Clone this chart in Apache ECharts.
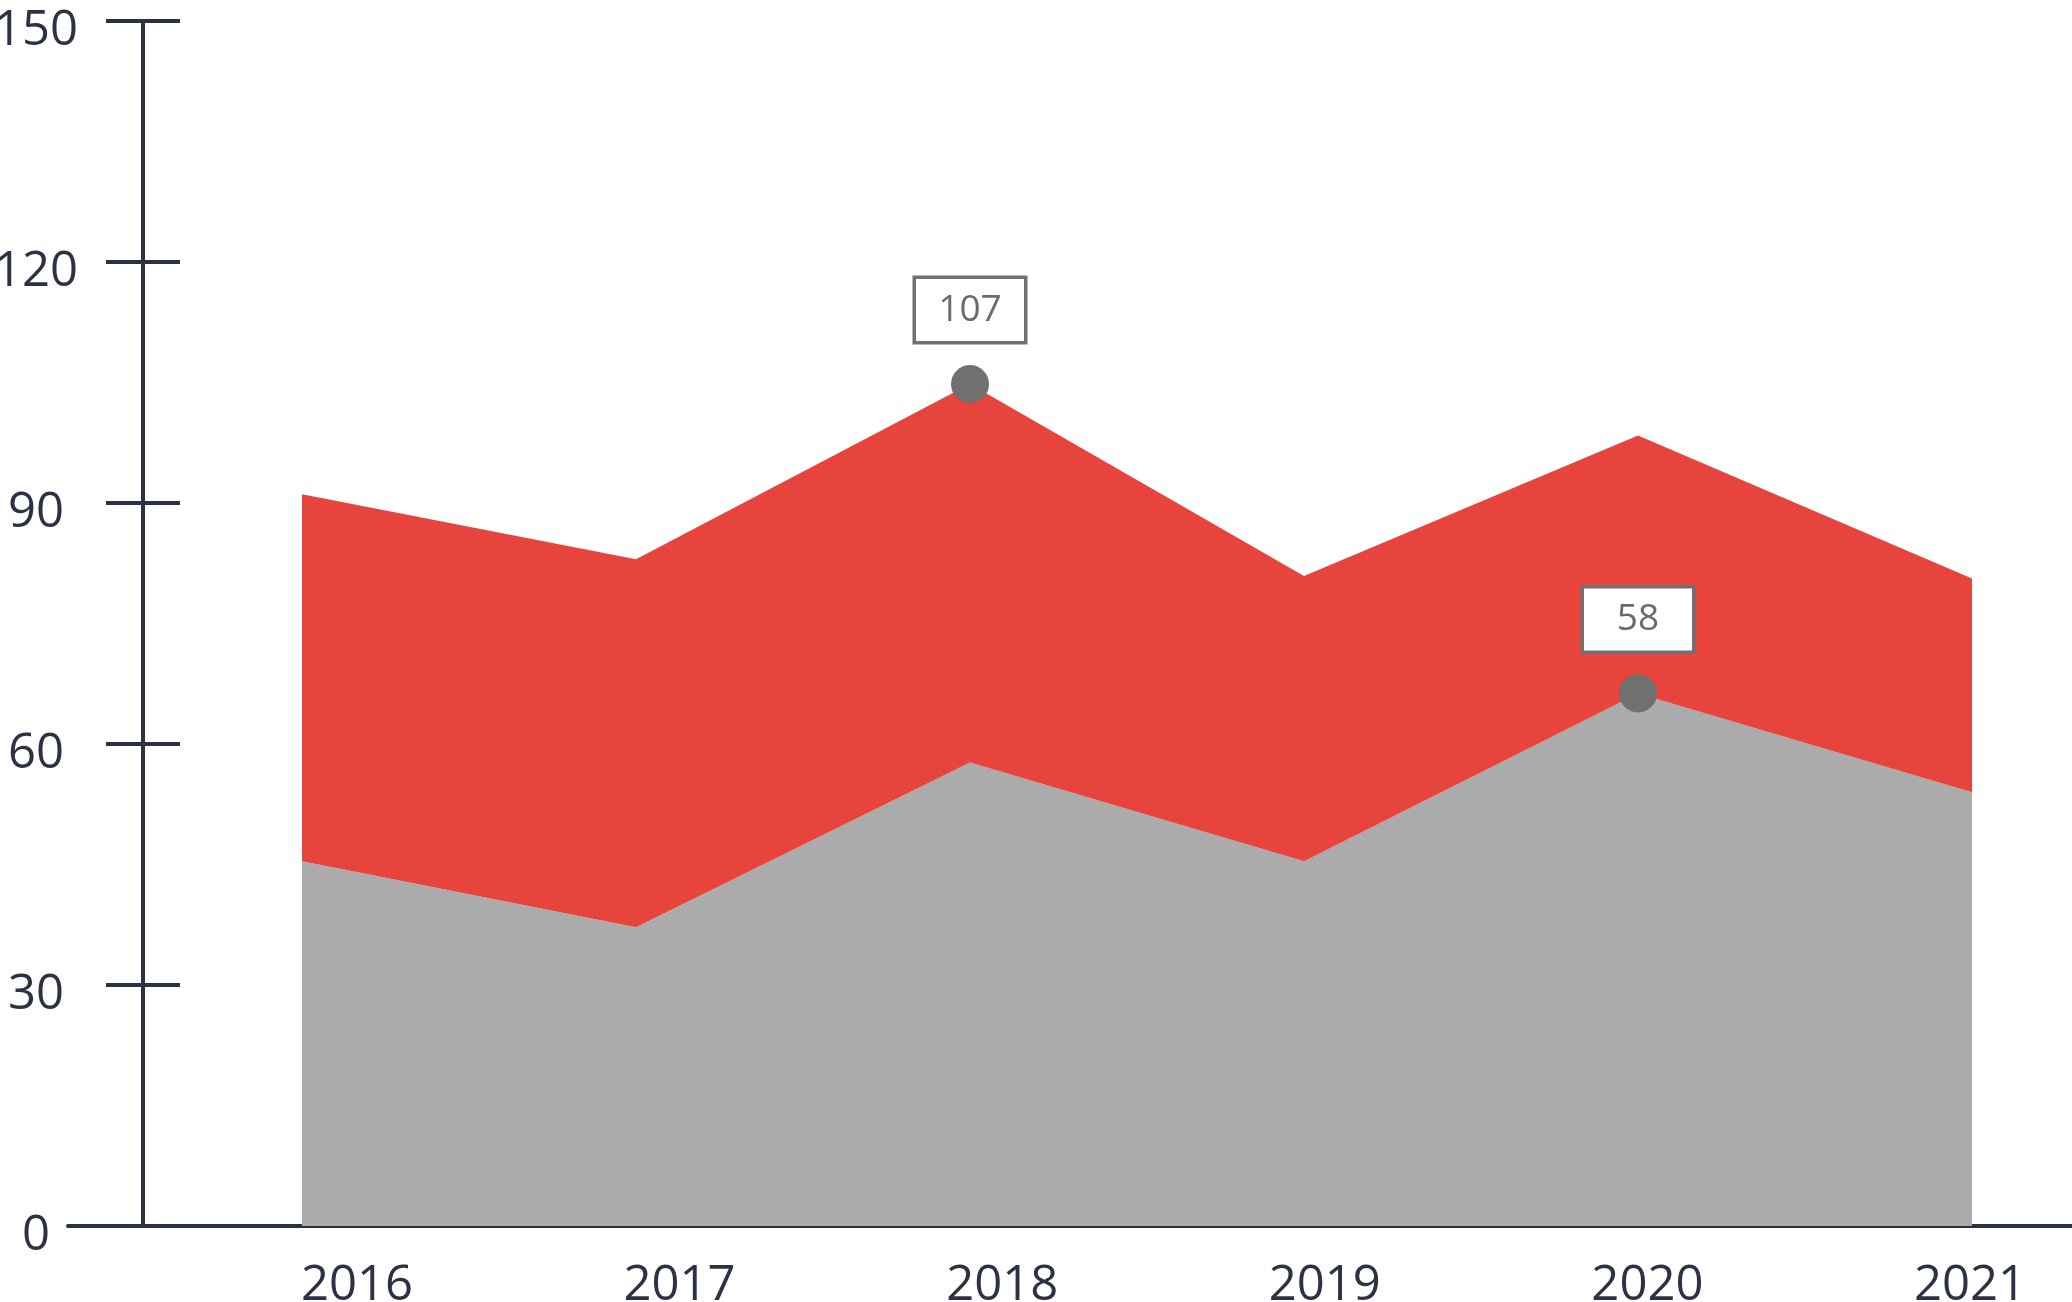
<!DOCTYPE html>
<html><head><meta charset="utf-8">
<script src="https://cdn.jsdelivr.net/npm/echarts@6/dist/echarts.min.js"></script>
<style>html,body{margin:0;padding:0;background:#fff}#c{width:2072px;height:1302px}</style>
</head><body><div id="c"></div>
<script>
const years = ['2016', '2017', '2018', '2019', '2020', '2021'];
const grayValues = [45.4, 37.2, 57.7, 45.4, 66.3, 54.0];
const redValues = [45.7, 45.8, 47.1, 35.5, 32.1, 26.6];
const yTicks = [0, 30, 60, 90, 120, 150];
const calloutYears = ['2018', '2020'];
const calloutLevels = ['top', 'gray'];
const calloutLabels = ['107', '58'];

const AXIS = '#2b3244';
const RED = '#e6443c';
const GRAY = '#aaabaa';
const MARK = '#6f7070';

const yMin = yTicks[0], yMax = yTicks[yTicks.length - 1], yInt = yTicks[1] - yTicks[0];

const calloutData = calloutYears.map((y, k) => {
  const i = years.indexOf(y);
  const v = calloutLevels[k] === 'top' ? grayValues[i] + redValues[i] : grayValues[i];
  return [y, +v.toFixed(2)];
});

const chart = echarts.init(document.getElementById('c'), null, {renderer: 'canvas'});
const gTop = 21, gBottom = 76;
chart.setOption({
  animation: false,
  backgroundColor: '#ffffff',
  textStyle: {fontFamily: 'Open Sans'},
  grid: [
    {left: 302, right: 100, top: gTop, bottom: gBottom, outerBoundsMode: 'none', containLabel: false},
    {left: 68, right: 0, top: gTop, bottom: gBottom, outerBoundsMode: 'none', containLabel: false},
    {left: 357, right: 102, top: gTop, bottom: gBottom, outerBoundsMode: 'none', containLabel: false}
  ],
  xAxis: [
    {type: 'category', gridIndex: 0, data: years, boundaryGap: false,
     axisLine: {show: false}, axisTick: {show: false}, axisLabel: {show: false}, splitLine: {show: false}},
    {type: 'value', gridIndex: 1, min: 0, max: 1,
     axisLine: {show: true, onZero: false, lineStyle: {color: AXIS, width: 4}},
     axisTick: {show: false}, axisLabel: {show: false}, splitLine: {show: false}},
    {type: 'category', gridIndex: 2, data: years, boundaryGap: false,
     axisLine: {show: false}, axisTick: {show: false}, splitLine: {show: false},
     axisLabel: {show: true, color: AXIS, fontSize: 49, margin: 36, fontFamily: 'Open Sans'}}
  ],
  yAxis: [
    {type: 'value', gridIndex: 0, min: yMin, max: yMax, interval: yInt,
     axisLine: {show: false}, axisTick: {show: false}, axisLabel: {show: false}, splitLine: {show: false}},
    {type: 'value', gridIndex: 1, position: 'left', offset: -75, min: yMin, max: yMax, interval: yInt,
     axisLine: {show: true, onZero: false, lineStyle: {color: AXIS, width: 4}},
     axisTick: {show: true, inside: false, length: 37, lineStyle: {color: AXIS, width: 4}},
     axisLabel: {show: true, color: AXIS, fontSize: 49, margin: 107, align: 'center',
                 verticalAlign: 'top', lineHeight: 20, fontFamily: 'Open Sans'},
     splitLine: {show: false}},
    {type: 'value', gridIndex: 1, position: 'left', offset: -75, min: yMin, max: yMax, interval: yInt,
     axisLine: {show: false},
     axisTick: {show: true, inside: true, length: 37, lineStyle: {color: AXIS, width: 4}},
     axisLabel: {show: false}, splitLine: {show: false}},
    {type: 'value', gridIndex: 2, min: yMin, max: yMax, show: false}
  ],
  series: [
    {type: 'line', name: 'gray', xAxisIndex: 0, yAxisIndex: 0, stack: 'total', data: grayValues,
     symbol: 'none', lineStyle: {width: 0, color: GRAY}, itemStyle: {color: GRAY},
     areaStyle: {color: GRAY, opacity: 1}, z: 2},
    {type: 'line', name: 'red', xAxisIndex: 0, yAxisIndex: 0, stack: 'total', data: redValues,
     symbol: 'none', lineStyle: {width: 0, color: RED}, itemStyle: {color: RED},
     areaStyle: {color: RED, opacity: 1}, z: 2},
    {type: 'scatter', xAxisIndex: 0, yAxisIndex: 0, data: calloutData, symbolSize: 38,
     itemStyle: {color: MARK, opacity: 1}, z: 5,
     label: {show: true, position: 'top', distance: 24,
             formatter: p => calloutLabels[p.dataIndex],
             color: '#6b6b6b', fontSize: 37, fontFamily: 'Open Sans',
             backgroundColor: '#ffffff', borderColor: '#707070', borderWidth: 3.5,
             width: 108, height: 62, lineHeight: 62, align: 'center'}}
  ]
});
</script>
</body></html>
